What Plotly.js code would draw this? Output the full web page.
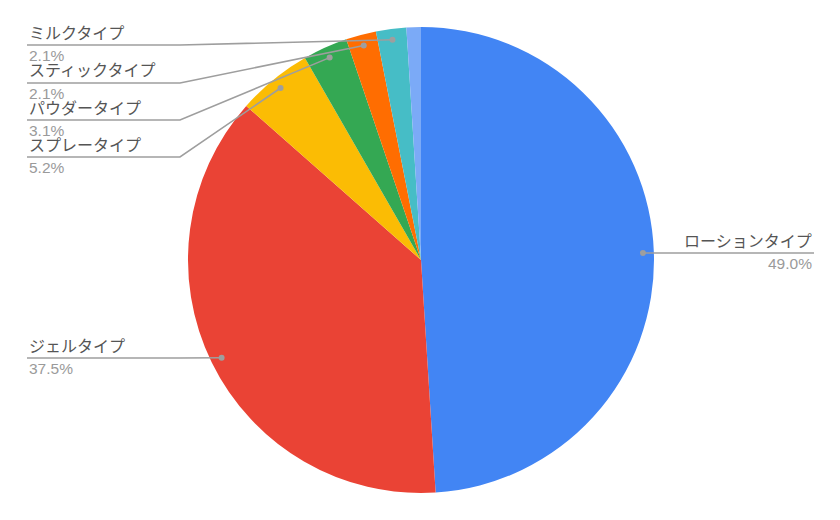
<!DOCTYPE html>
<html>
<head>
<meta charset="utf-8">
<script src="https://cdn.plot.ly/plotly-3.0.1.min.js"></script>
<style>html,body{margin:0;padding:0;background:#fff;}#chart{width:840px;height:520px;}</style>
</head>
<body>
<div id="chart"></div>
<script>
// ---- data ----
const categories = ['ローションタイプ','ジェルタイプ','スプレータイプ','パウダータイプ','スティックタイプ','ミルクタイプ','その他'];
const shares = [49.0, 37.5, 5.2, 3.1, 2.1, 2.1, 1.0];
const showLabel = [true, true, true, true, true, true, false];

// ---- style / layout ----
const colors = ['#4285F4','#EA4335','#FBBC04','#34A853','#FF6D01','#46BDC6','#7BAAF7'];
const W = 840, H = 520;
const CX = 421, CY = 260, R = 233;
// label placement per category: side, line y (px)
const labelSide = ['right','left','left','left','left','left', null];
const labelLineY = [253, 358, 157, 120, 83, 45, null];
const leftX = 27, kneeX = 180, rightX = 814;
const dotFrac = 0.953;

const px = x => x / W;
const py = y => 1 - y / H;

const total = shares.reduce((a,b)=>a+b,0);
const shapes = [], annotations = [];
let cum = 0;
const font = 'Liberation Sans, Arial, Noto Sans CJK JP, sans-serif';
shares.forEach((v,i)=>{
  const mid = (cum + v/2) / total;
  cum += v;
  if (!showLabel[i]) return;
  const th = 2*Math.PI*mid;
  const dx = CX + R*dotFrac*Math.sin(th);
  const dy = CY - R*dotFrac*Math.cos(th);
  const ly = labelLineY[i];
  let path, tx, anchor;
  if (labelSide[i] === 'right') {
    path = `M ${px(dx)} ${py(dy)} L ${px(rightX)} ${py(ly)}`;
    tx = rightX; anchor = 'right';
  } else {
    const kx = Math.min(kneeX, dx);
    path = `M ${px(leftX)} ${py(ly)} L ${px(kx)} ${py(ly)} L ${px(dx)} ${py(dy)}`;
    tx = leftX; anchor = 'left';
  }
  shapes.push({type:'path', xref:'paper', yref:'paper', path:path, line:{color:'#9e9e9e', width:1.6}});
  shapes.push({type:'circle', xref:'paper', yref:'paper', x0:px(dx-3), x1:px(dx+3), y0:py(dy+3), y1:py(dy-3),
               fillcolor:'#9e9e9e', line:{width:0}});
  annotations.push({xref:'paper', yref:'paper', x:px(tx), y:py(ly-12), xanchor:anchor, yanchor:'middle',
    text:categories[i], showarrow:false, font:{family:font, size:16, color:'#555555'}});
  annotations.push({xref:'paper', yref:'paper', x:px(tx), y:py(ly+10.5), xanchor:anchor, yanchor:'middle',
    text:v.toFixed(1)+'%', showarrow:false, font:{family:font, size:15.5, color:'#9a9a9a'}});
});

const trace = {
  type:'pie',
  labels:categories,
  values:shares,
  sort:false,
  direction:'clockwise',
  rotation:0,
  textinfo:'none',
  hoverinfo:'label+percent',
  marker:{colors:colors, line:{width:0}},
  domain:{x:[(CX-R)/W, (CX+R)/W], y:[(H-CY-R)/H, (H-CY+R)/H]}
};

Plotly.newPlot('chart',[trace],{
  width:W, height:H,
  margin:{l:0,r:0,t:0,b:0},
  paper_bgcolor:'#ffffff',
  showlegend:false,
  shapes:shapes,
  annotations:annotations
},{displayModeBar:false, staticPlot:true});
</script>
</body>
</html>
